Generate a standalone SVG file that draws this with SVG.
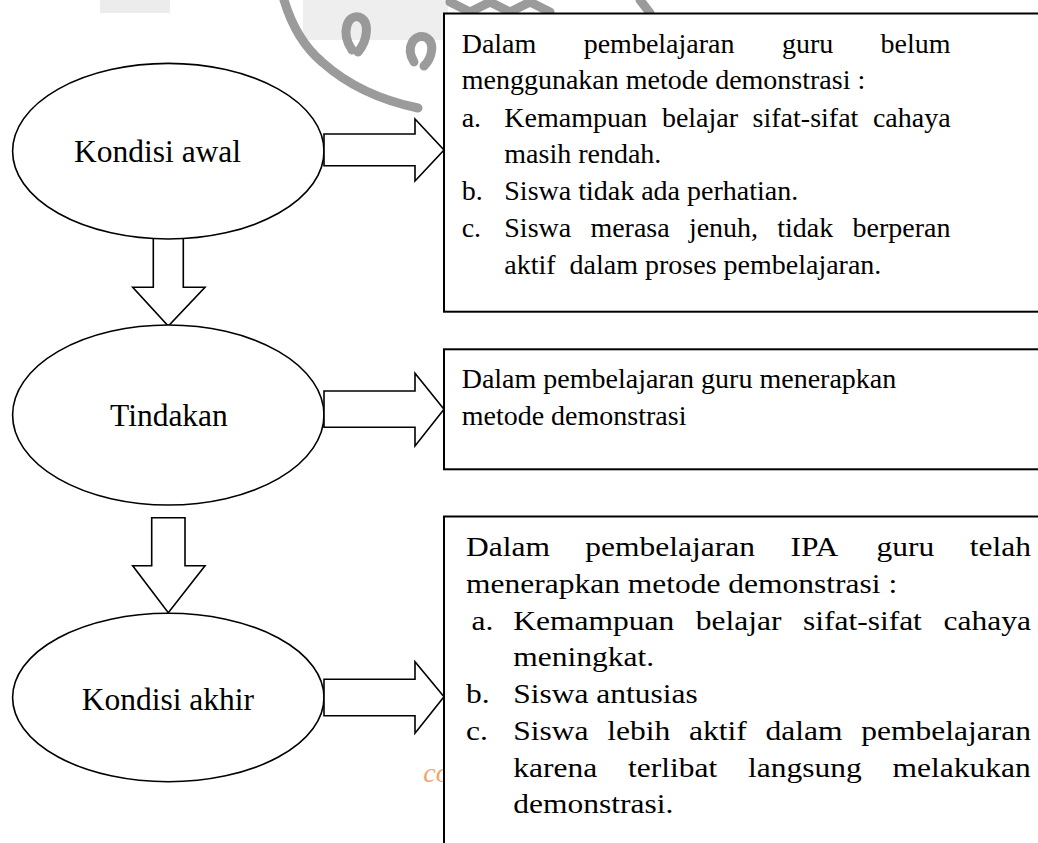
<svg xmlns="http://www.w3.org/2000/svg" width="1038" height="843" viewBox="0 0 1038 843">
<style>
text{font-family:"Liberation Serif","Times New Roman",serif;fill:#000}
.bt{font-size:28px}
.et{font-size:31.5px}
.shape{fill:#fff;stroke:#000;stroke-width:1.6}
.box{fill:#fff;stroke:#000;stroke-width:2}
.wm{fill:none;stroke:#8a8a8a;stroke-width:9;stroke-linecap:round;opacity:0.85}
</style>
<rect width="1038" height="843" fill="#fff"/>
<g id="watermark">
<rect x="100" y="0" width="70" height="13" fill="#ececec"/>
<rect x="303" y="0" width="145" height="40" fill="#e2e2e2" opacity="0.6"/>
<path class="wm" d="M284 0 Q296 40 322 62 Q360 96 418 108"/>
<path class="wm" stroke-width="6" d="M352 50 C340 32 348 14 359 17 C370 21 368 40 358 52"/>
<path class="wm" stroke-width="6" d="M414 62 C405 47 414 34 425 37 C436 42 432 58 424 66"/>
<path class="wm" stroke-width="5" d="M450 2 L470 12 L490 2 L510 12 L530 2 L550 12 M640 0 L650 13"/>
</g>
<g id="connectors">
<path id="down1" class="shape" d="M153.3 230 V287.3 H132.7 L168.3 326 L205 287.3 H183.3 V230"/>
<path id="down2" class="shape" d="M151.7 517.7 V565.7 H132.7 L168.3 612.7 L205 565.7 H185 V517.7 Z"/>
</g>
<g id="node-kondisi-awal">
<ellipse class="shape" cx="168.3" cy="151.2" rx="155.7" ry="87.8"/>
<text class="et" x="74" y="161.7">Kondisi awal</text>
</g>
<g id="node-tindakan">
<ellipse class="shape" cx="168.3" cy="415" rx="155.7" ry="90"/>
<text class="et" x="110" y="425.7">Tindakan</text>
</g>
<g id="node-kondisi-akhir">
<ellipse class="shape" cx="168.3" cy="697.5" rx="155.7" ry="84.2"/>
<text class="et" x="81.7" y="710">Kondisi akhir</text>
</g>
<g id="arrows">
<path class="shape" d="M324 134 H415 V119 L444 150 L415 181 V165.7 H324 Z"/>
<path class="shape" d="M324 391 H415 V373.3 L444 409.3 L415 446 V427.3 H324 Z"/>
<path class="shape" d="M324 679.3 H415 V661.7 L444 696.7 L415 733.3 V715.7 H324 Z"/>
</g>
<text x="423.3" y="782" style="font-size:28px;font-style:italic;fill:#f5a46c">co</text>
<g id="box-awal">
<rect class="box" x="444" y="13.5" width="700" height="298.2"/>
<text class="bt" y="53.3"><tspan x="461.7">Dalam</tspan><tspan x="583.7">pembelajaran</tspan><tspan x="781.9">guru</tspan><tspan x="880.6">belum</tspan></text>
<text class="bt" x="461.7" y="89.3">menggunakan metode demonstrasi :</text>
<text class="bt" y="126.7"><tspan x="461.7">a.</tspan><tspan x="504.3">Kemampuan</tspan><tspan x="661.9">belajar</tspan><tspan x="752.6">sifat-sifat</tspan><tspan x="872.9">cahaya</tspan></text>
<text class="bt" x="504.3" y="162.7">masih rendah.</text>
<text class="bt" y="200"><tspan x="461.7">b.</tspan><tspan x="504.3">Siswa tidak ada perhatian.</tspan></text>
<text class="bt" y="236.7"><tspan x="461.7">c.</tspan><tspan x="504.3">Siswa</tspan><tspan x="590.4">merasa</tspan><tspan x="688.9">jenuh,</tspan><tspan x="777.3">tidak</tspan><tspan x="852.5">berperan</tspan></text>
<text class="bt" y="274"><tspan x="504.3">aktif</tspan><tspan x="569.6">dalam proses pembelajaran.</tspan></text>
</g>
<g id="box-tindakan">
<rect class="box" x="444" y="349.3" width="700" height="120"/>
<text class="bt" x="461.7" y="388">Dalam pembelajaran guru menerapkan</text>
<text class="bt" x="461.7" y="424.5">metode demonstrasi</text>
</g>
<g id="box-akhir">
<rect class="box" x="444" y="516.5" width="700" height="400"/>
<g transform="translate(466 0) scale(1.125 1)">
<text class="bt" y="556.3"><tspan x="0">Dalam</tspan><tspan x="106.1">pembelajaran</tspan><tspan x="288.4">IPA</tspan><tspan x="365">guru</tspan><tspan x="447.8">telah</tspan></text>
<text class="bt" x="0" y="593">menerapkan metode demonstrasi :</text>
<text class="bt" y="629.7"><tspan x="5">a.</tspan><tspan x="42">Kemampuan</tspan><tspan x="204.2">belajar</tspan><tspan x="299.5">sifat-sifat</tspan><tspan x="424.4">cahaya</tspan></text>
<text class="bt" x="42" y="666.3">meningkat.</text>
<text class="bt" y="703"><tspan x="0">b.</tspan><tspan x="42">Siswa antusias</tspan></text>
<text class="bt" y="740"><tspan x="0">c.</tspan><tspan x="42">Siswa</tspan><tspan x="125.6">lebih</tspan><tspan x="198.3">aktif</tspan><tspan x="266.3">dalam</tspan><tspan x="351.4">pembelajaran</tspan></text>
<text class="bt" y="776.7"><tspan x="42">karena</tspan><tspan x="144">terlibat</tspan><tspan x="250.7">langsung</tspan><tspan x="379.2">melakukan</tspan></text>
<text class="bt" x="42" y="813.3">demonstrasi.</text>
</g>
</g>
</svg>
